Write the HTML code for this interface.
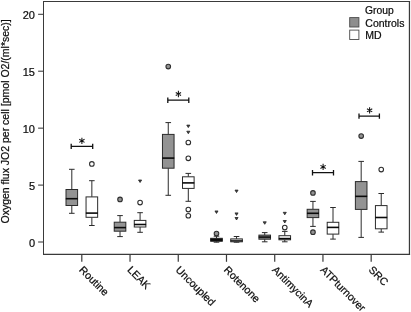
<!DOCTYPE html>
<html><head><meta charset="utf-8"><title>Boxplot</title>
<style>html,body{margin:0;padding:0;background:#fff;}body{width:411px;height:312px;overflow:hidden;}svg{display:block;filter:grayscale(1);}text{font-family:"Liberation Sans", sans-serif;fill:#0c0c0c;stroke:#0c0c0c;stroke-width:0.22px;}</style>
</head><body>
<svg width="411" height="312" viewBox="0 0 411 312">
<rect x="0" y="0" width="411" height="312" fill="#ffffff"/>
<path d="M43.5 254.85 V1.05" fill="none" stroke="#3a3a3a" stroke-width="1.0"/>
<path d="M43.0 1.55 H410.05" fill="none" stroke="#3a3a3a" stroke-width="1.1"/>
<path d="M409.45 1.05 V254.85" fill="none" stroke="#3a3a3a" stroke-width="1.25"/>
<path d="M43.0 254.35 H410.05" fill="none" stroke="#3a3a3a" stroke-width="1.05"/>
<line x1="38.1" y1="14.3" x2="43.5" y2="14.3" stroke="#3a3a3a" stroke-width="1.05"/>
<text x="35.0" y="18.85" font-size="11" text-anchor="end">20</text>
<line x1="38.1" y1="71.2" x2="43.5" y2="71.2" stroke="#3a3a3a" stroke-width="1.05"/>
<text x="35.0" y="75.75" font-size="11" text-anchor="end">15</text>
<line x1="38.1" y1="128.15" x2="43.5" y2="128.15" stroke="#3a3a3a" stroke-width="1.05"/>
<text x="35.0" y="132.70000000000002" font-size="11" text-anchor="end">10</text>
<line x1="38.1" y1="185.1" x2="43.5" y2="185.1" stroke="#3a3a3a" stroke-width="1.05"/>
<text x="35.0" y="189.65" font-size="11" text-anchor="end">5</text>
<line x1="38.1" y1="242.0" x2="43.5" y2="242.0" stroke="#3a3a3a" stroke-width="1.05"/>
<text x="35.0" y="246.55" font-size="11" text-anchor="end">0</text>
<text transform="translate(9.2,121.4) rotate(-90)" font-size="10.5" text-anchor="middle">Oxygen flux JO2 per cell [pmol O2/(ml*sec)]</text>
<line x1="81.80" y1="254.35" x2="81.80" y2="261.8" stroke="#3a3a3a" stroke-width="1.2"/>
<text transform="translate(78.60,270.6) rotate(45)" font-size="10.6">Routine</text>
<line x1="130.03" y1="254.35" x2="130.03" y2="261.8" stroke="#3a3a3a" stroke-width="1.2"/>
<text transform="translate(126.83,270.6) rotate(45)" font-size="10.6">LEAK</text>
<line x1="178.26" y1="254.35" x2="178.26" y2="261.8" stroke="#3a3a3a" stroke-width="1.2"/>
<text transform="translate(175.06,270.6) rotate(45)" font-size="10.6">Uncoupled</text>
<line x1="226.49" y1="254.35" x2="226.49" y2="261.8" stroke="#3a3a3a" stroke-width="1.2"/>
<text transform="translate(223.29,270.6) rotate(45)" font-size="10.6">Rotenone</text>
<line x1="274.72" y1="254.35" x2="274.72" y2="261.8" stroke="#3a3a3a" stroke-width="1.2"/>
<text transform="translate(271.52,270.6) rotate(45)" font-size="10.6">AntimycinA</text>
<line x1="322.95" y1="254.35" x2="322.95" y2="261.8" stroke="#3a3a3a" stroke-width="1.2"/>
<text transform="translate(319.75,270.6) rotate(45)" font-size="10.6">ATPturnover</text>
<line x1="371.18" y1="254.35" x2="371.18" y2="261.8" stroke="#3a3a3a" stroke-width="1.2"/>
<text transform="translate(367.98,270.6) rotate(45)" font-size="10.6">SRC</text>
<text x="365.0" y="14.3" font-size="10.3">Group</text>
<rect x="349.7" y="17.6" width="9.2" height="9.4" fill="#8e8e8e" stroke="#4a4a4a" stroke-width="0.9"/>
<text x="365.3" y="26.8" font-size="10.5">Controls</text>
<rect x="349.7" y="30.1" width="9.2" height="9.4" fill="#ffffff" stroke="#4a4a4a" stroke-width="0.9"/>
<text x="365.3" y="39.2" font-size="10.5">MD</text>
<path d="M71.80 169.3 V189.5 M71.80 205.5 V213.3 M69.00 169.3 H74.60 M69.00 213.3 H74.60" fill="none" stroke="#2b2b2b" stroke-width="1.0"/>
<rect x="66.00" y="189.5" width="11.6" height="16.00" fill="#939393" stroke="#2b2b2b" stroke-width="1.0"/>
<line x1="65.80" y1="198.7" x2="77.80" y2="198.7" stroke="#0a0a0a" stroke-width="1.6"/>
<path d="M91.85 180.7 V196.9 M91.85 217.3 V225.5 M89.05 180.7 H94.65 M89.05 225.5 H94.65" fill="none" stroke="#2b2b2b" stroke-width="1.0"/>
<rect x="86.05" y="196.9" width="11.6" height="20.40" fill="#ffffff" stroke="#2b2b2b" stroke-width="1.0"/>
<line x1="85.85" y1="213.1" x2="97.85" y2="213.1" stroke="#0a0a0a" stroke-width="1.6"/>
<circle cx="91.85" cy="163.95" r="2.3" fill="#ffffff" stroke="#2e2e2e" stroke-width="1.08"/>
<path d="M71.2 143.70000000000002 V149.1 M71.2 146.4 H92.7 M92.7 143.70000000000002 V149.1" fill="none" stroke="#111" stroke-width="1.3"/>
<path d="M81.90 140.85 L81.90 137.70 M81.90 140.85 L84.54 139.32 M81.90 140.85 L84.54 142.38 M81.90 140.85 L81.90 144.00 M81.90 140.85 L79.26 139.32 M81.90 140.85 L79.26 142.38 " fill="none" stroke="#111" stroke-width="1.05"/>
<path d="M120.03 215.6 V222.2 M120.03 231.2 V236.6 M117.23 215.6 H122.83 M117.23 236.6 H122.83" fill="none" stroke="#2b2b2b" stroke-width="1.0"/>
<rect x="114.23" y="222.2" width="11.6" height="9.00" fill="#939393" stroke="#2b2b2b" stroke-width="1.0"/>
<line x1="114.03" y1="227.6" x2="126.03" y2="227.6" stroke="#0a0a0a" stroke-width="1.6"/>
<path d="M140.08 212.7 V220.4 M140.08 227.0 V232.3 M137.28 212.7 H142.88 M137.28 232.3 H142.88" fill="none" stroke="#2b2b2b" stroke-width="1.0"/>
<rect x="134.28" y="220.4" width="11.6" height="6.60" fill="#ffffff" stroke="#2b2b2b" stroke-width="1.0"/>
<line x1="134.08" y1="224.5" x2="146.08" y2="224.5" stroke="#0a0a0a" stroke-width="1.6"/>
<circle cx="120.03" cy="199.4" r="2.3" fill="#939393" stroke="#2e2e2e" stroke-width="1.08"/>
<circle cx="140.08" cy="202.6" r="2.3" fill="#ffffff" stroke="#2e2e2e" stroke-width="1.08"/>
<path d="M138.53 180.00 L141.63 180.00 L140.08 182.50 Z" fill="#4a4a4a" stroke="#1c1c1c" stroke-width="0.75" stroke-linejoin="round"/>
<path d="M168.26 122.6 V134.4 M168.26 168.2 V195.3 M165.46 122.6 H171.06 M165.46 195.3 H171.06" fill="none" stroke="#2b2b2b" stroke-width="1.0"/>
<rect x="162.46" y="134.4" width="11.6" height="33.80" fill="#939393" stroke="#2b2b2b" stroke-width="1.0"/>
<line x1="162.26" y1="158.1" x2="174.26" y2="158.1" stroke="#0a0a0a" stroke-width="1.6"/>
<path d="M188.31 173.4 V176.8 M188.31 188.4 V201.3 M185.51 173.4 H191.11 M185.51 201.3 H191.11" fill="none" stroke="#2b2b2b" stroke-width="1.0"/>
<rect x="182.51" y="176.8" width="11.6" height="11.60" fill="#ffffff" stroke="#2b2b2b" stroke-width="1.0"/>
<line x1="182.31" y1="182.9" x2="194.31" y2="182.9" stroke="#0a0a0a" stroke-width="1.6"/>
<circle cx="168.26" cy="66.6" r="2.3" fill="#939393" stroke="#2e2e2e" stroke-width="1.08"/>
<path d="M186.76 125.10 L189.86 125.10 L188.31 127.60 Z" fill="#4a4a4a" stroke="#1c1c1c" stroke-width="0.75" stroke-linejoin="round"/>
<path d="M186.76 131.20 L189.86 131.20 L188.31 133.70 Z" fill="#4a4a4a" stroke="#1c1c1c" stroke-width="0.75" stroke-linejoin="round"/>
<circle cx="188.31" cy="142.5" r="2.3" fill="#ffffff" stroke="#2e2e2e" stroke-width="1.08"/>
<circle cx="188.31" cy="158.3" r="2.3" fill="#ffffff" stroke="#2e2e2e" stroke-width="1.08"/>
<circle cx="188.31" cy="209.6" r="2.3" fill="#ffffff" stroke="#2e2e2e" stroke-width="1.08"/>
<circle cx="188.31" cy="215.75" r="2.3" fill="#ffffff" stroke="#2e2e2e" stroke-width="1.08"/>
<path d="M167.8 97.5 V102.9 M167.8 100.2 H188.8 M188.8 97.5 V102.9" fill="none" stroke="#111" stroke-width="1.3"/>
<path d="M178.40 94.00 L178.40 90.85 M178.40 94.00 L181.04 92.47 M178.40 94.00 L181.04 95.53 M178.40 94.00 L178.40 97.15 M178.40 94.00 L175.76 92.47 M178.40 94.00 L175.76 95.53 " fill="none" stroke="#111" stroke-width="1.05"/>
<path d="M216.49 236.2 V238.3 M216.49 241.3 V242.2 M213.69 236.2 H219.29 M213.69 242.2 H219.29" fill="none" stroke="#2b2b2b" stroke-width="1.0"/>
<rect x="210.69" y="238.3" width="11.6" height="3.00" fill="#333" stroke="#2b2b2b" stroke-width="1.0"/>
<line x1="210.49" y1="239.8" x2="222.49" y2="239.8" stroke="#0a0a0a" stroke-width="2.2"/>
<circle cx="216.49" cy="233.6" r="2.3" fill="#939393" stroke="#2e2e2e" stroke-width="1.08"/>
<path d="M236.54 236.5 V238.9 M236.54 241.8 V242.2 M233.74 236.5 H239.34 M233.74 242.2 H239.34" fill="none" stroke="#2b2b2b" stroke-width="1.0"/>
<rect x="230.74" y="238.9" width="11.6" height="2.90" fill="#ddd" stroke="#2b2b2b" stroke-width="1.0"/>
<line x1="230.54" y1="240.8" x2="242.54" y2="240.8" stroke="#0a0a0a" stroke-width="1.2"/>
<path d="M214.94 210.95 L218.04 210.95 L216.49 213.45 Z" fill="#4a4a4a" stroke="#1c1c1c" stroke-width="0.75" stroke-linejoin="round"/>
<path d="M234.99 190.10 L238.09 190.10 L236.54 192.60 Z" fill="#4a4a4a" stroke="#1c1c1c" stroke-width="0.75" stroke-linejoin="round"/>
<path d="M234.99 212.90 L238.09 212.90 L236.54 215.40 Z" fill="#4a4a4a" stroke="#1c1c1c" stroke-width="0.75" stroke-linejoin="round"/>
<path d="M234.99 217.50 L238.09 217.50 L236.54 220.00 Z" fill="#4a4a4a" stroke="#1c1c1c" stroke-width="0.75" stroke-linejoin="round"/>
<path d="M264.72 232.6 V235.1 M264.72 239.2 V241.8 M261.92 232.6 H267.52 M261.92 241.8 H267.52" fill="none" stroke="#2b2b2b" stroke-width="1.0"/>
<rect x="258.92" y="235.1" width="11.6" height="4.10" fill="#808080" stroke="#2b2b2b" stroke-width="1.0"/>
<line x1="258.72" y1="237.1" x2="270.72" y2="237.1" stroke="#0a0a0a" stroke-width="1.5"/>
<path d="M284.77 231.4 V235.7 M284.77 239.8 V241.8 M281.97 231.4 H287.57 M281.97 241.8 H287.57" fill="none" stroke="#2b2b2b" stroke-width="1.0"/>
<rect x="278.97" y="235.7" width="11.6" height="4.10" fill="#ffffff" stroke="#2b2b2b" stroke-width="1.0"/>
<line x1="278.77" y1="238.6" x2="290.77" y2="238.6" stroke="#0a0a0a" stroke-width="1.6"/>
<path d="M263.17 221.80 L266.27 221.80 L264.72 224.30 Z" fill="#4a4a4a" stroke="#1c1c1c" stroke-width="0.75" stroke-linejoin="round"/>
<path d="M283.22 212.30 L286.32 212.30 L284.77 214.80 Z" fill="#4a4a4a" stroke="#1c1c1c" stroke-width="0.75" stroke-linejoin="round"/>
<path d="M283.22 220.50 L286.32 220.50 L284.77 223.00 Z" fill="#4a4a4a" stroke="#1c1c1c" stroke-width="0.75" stroke-linejoin="round"/>
<circle cx="284.77" cy="227.6" r="2.3" fill="#ffffff" stroke="#2e2e2e" stroke-width="1.08"/>
<path d="M312.95 201.4 V209.3 M312.95 217.6 V226.4 M310.15 201.4 H315.75 M310.15 226.4 H315.75" fill="none" stroke="#2b2b2b" stroke-width="1.0"/>
<rect x="307.15" y="209.3" width="11.6" height="8.30" fill="#939393" stroke="#2b2b2b" stroke-width="1.0"/>
<line x1="306.95" y1="213.3" x2="318.95" y2="213.3" stroke="#0a0a0a" stroke-width="1.6"/>
<path d="M333.00 207.5 V222.3 M333.00 234.1 V239.1 M330.20 207.5 H335.80 M330.20 239.1 H335.80" fill="none" stroke="#2b2b2b" stroke-width="1.0"/>
<rect x="327.20" y="222.3" width="11.6" height="11.80" fill="#ffffff" stroke="#2b2b2b" stroke-width="1.0"/>
<line x1="327.00" y1="227.4" x2="339.00" y2="227.4" stroke="#0a0a0a" stroke-width="1.6"/>
<circle cx="312.95" cy="192.9" r="2.3" fill="#939393" stroke="#2e2e2e" stroke-width="1.08"/>
<circle cx="312.95" cy="232.2" r="2.3" fill="#939393" stroke="#2e2e2e" stroke-width="1.08"/>
<path d="M312.5 170.0 V175.39999999999998 M312.5 172.7 H333.5 M333.5 170.0 V175.39999999999998" fill="none" stroke="#111" stroke-width="1.3"/>
<path d="M323.10 166.90 L323.10 163.75 M323.10 166.90 L325.74 165.38 M323.10 166.90 L325.74 168.43 M323.10 166.90 L323.10 170.05 M323.10 166.90 L320.46 165.38 M323.10 166.90 L320.46 168.43 " fill="none" stroke="#111" stroke-width="1.05"/>
<path d="M361.18 161.4 V181.6 M361.18 209.4 V237.4 M358.38 161.4 H363.98 M358.38 237.4 H363.98" fill="none" stroke="#2b2b2b" stroke-width="1.0"/>
<rect x="355.38" y="181.6" width="11.6" height="27.80" fill="#939393" stroke="#2b2b2b" stroke-width="1.0"/>
<line x1="355.18" y1="196.35" x2="367.18" y2="196.35" stroke="#0a0a0a" stroke-width="1.6"/>
<path d="M381.23 193.5 V205.6 M381.23 228.8 V232.1 M378.43 193.5 H384.03 M378.43 232.1 H384.03" fill="none" stroke="#2b2b2b" stroke-width="1.0"/>
<rect x="375.43" y="205.6" width="11.6" height="23.20" fill="#ffffff" stroke="#2b2b2b" stroke-width="1.0"/>
<line x1="375.23" y1="217.5" x2="387.23" y2="217.5" stroke="#0a0a0a" stroke-width="1.6"/>
<circle cx="361.18" cy="136.1" r="2.3" fill="#939393" stroke="#2e2e2e" stroke-width="1.08"/>
<circle cx="381.23" cy="169.6" r="2.3" fill="#ffffff" stroke="#2e2e2e" stroke-width="1.08"/>
<path d="M359.0 113.39999999999999 V118.8 M359.0 116.1 H379.4 M379.4 113.39999999999999 V118.8" fill="none" stroke="#111" stroke-width="1.3"/>
<path d="M369.60 110.35 L369.60 107.20 M369.60 110.35 L372.24 108.82 M369.60 110.35 L372.24 111.88 M369.60 110.35 L369.60 113.50 M369.60 110.35 L366.96 108.82 M369.60 110.35 L366.96 111.88 " fill="none" stroke="#111" stroke-width="1.05"/>
</svg>
</body></html>
